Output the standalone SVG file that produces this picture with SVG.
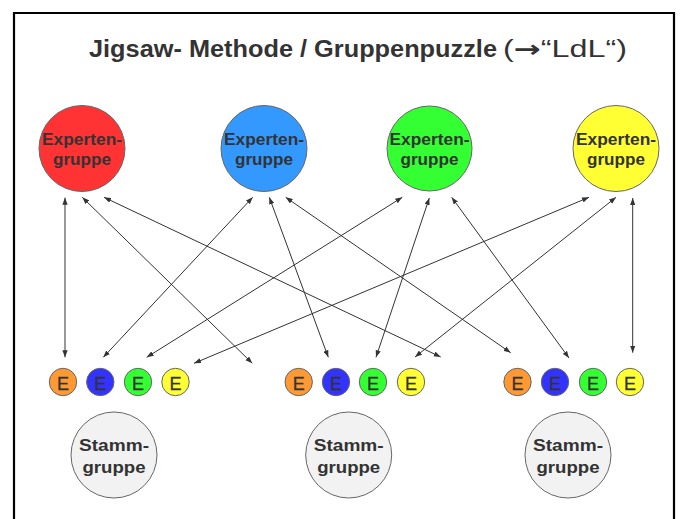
<svg xmlns="http://www.w3.org/2000/svg" width="680" height="519" viewBox="0 0 680 519">
<style>
.bg{fill:#fff}
.frame{fill:none;stroke:#000;stroke-width:2.2}
.title{font-family:"Liberation Sans",Arial,sans-serif;font-size:23px;fill:#333}
.big{stroke:#666;stroke-width:1}
.lbl{font-family:"Liberation Sans",Arial,sans-serif;font-weight:bold;fill:#333;text-anchor:middle}
.e{stroke:#666;stroke-width:1}
.etx{font-family:"Liberation Sans",Arial,sans-serif;font-size:18px;fill:#333;text-anchor:middle;stroke:#333;stroke-width:0.3}
.cn line{stroke:#333;stroke-width:1;marker-start:url(#ah);marker-end:url(#ah)}
</style>
<defs>
<marker id="ah" viewBox="0 0 8 6" refX="8" refY="3" markerWidth="7" markerHeight="5.5" markerUnits="userSpaceOnUse" orient="auto-start-reverse">
<path d="M0,0 L8,3 L0,6 z" fill="#333"/>
</marker>
</defs>
<rect class="bg" x="0" y="0" width="680" height="519"/>
<path class="frame" d="M14,522 V13 H674 V522"/>
<g id="title">
<text class="title" x="89" y="57" font-weight="bold" textLength="408" lengthAdjust="spacingAndGlyphs">Jigsaw- Methode / Gruppenpuzzle</text>
<text class="title" x="503" y="57" textLength="124" lengthAdjust="spacingAndGlyphs">(<tspan font-family="'DejaVu Sans',sans-serif" font-weight="bold">→</tspan>“LdL“)</text>
</g>
<g class="cn" id="connectors">
<line x1="65" y1="197.7" x2="65" y2="357.3"/>
<line x1="82.3" y1="197.3" x2="252.3" y2="363.3"/>
<line x1="104" y1="197.3" x2="440.7" y2="357"/>
<line x1="252.7" y1="197.3" x2="103.3" y2="357.3"/>
<line x1="269.3" y1="197.3" x2="328.3" y2="357.3"/>
<line x1="285.7" y1="197.3" x2="510.7" y2="352.7"/>
<line x1="402.3" y1="197.3" x2="146.7" y2="357.3"/>
<line x1="429.3" y1="198" x2="376" y2="357.3"/>
<line x1="451.7" y1="197.3" x2="569" y2="358"/>
<line x1="589" y1="197.3" x2="194" y2="363.3"/>
<line x1="616" y1="197.3" x2="415" y2="357"/>
<line x1="632.7" y1="198" x2="632.7" y2="352.7"/>
</g>
<g id="expert-red">
<circle class="big" cx="82" cy="148.5" r="43" fill="#FF3333"/>
<text class="lbl" x="82" y="145" font-size="16" textLength="80" lengthAdjust="spacingAndGlyphs">Experten-</text>
<text class="lbl" x="82" y="165" font-size="16" textLength="58" lengthAdjust="spacingAndGlyphs">gruppe</text>
</g>
<g id="expert-blue">
<circle class="big" cx="264" cy="148.5" r="43" fill="#3399FF"/>
<text class="lbl" x="264" y="145" font-size="16" textLength="80" lengthAdjust="spacingAndGlyphs">Experten-</text>
<text class="lbl" x="264" y="165" font-size="16" textLength="58" lengthAdjust="spacingAndGlyphs">gruppe</text>
</g>
<g id="expert-green">
<circle class="big" cx="429.5" cy="148.5" r="42.5" fill="#33FF33"/>
<text class="lbl" x="429.5" y="145" font-size="16" textLength="80" lengthAdjust="spacingAndGlyphs">Experten-</text>
<text class="lbl" x="429.5" y="165" font-size="16" textLength="58" lengthAdjust="spacingAndGlyphs">gruppe</text>
</g>
<g id="expert-yellow">
<circle class="big" cx="616" cy="148.5" r="43" fill="#FFFF33"/>
<text class="lbl" x="616" y="145" font-size="16" textLength="80" lengthAdjust="spacingAndGlyphs">Experten-</text>
<text class="lbl" x="616" y="165" font-size="16" textLength="58" lengthAdjust="spacingAndGlyphs">gruppe</text>
</g>
<g id="e-group-1">
<circle class="e" cx="63" cy="382" r="13.7" fill="#FF9933"/><text class="etx" x="63" y="389.5">E</text>
<circle class="e" cx="100.3" cy="382" r="13.7" fill="#3333FF"/><text class="etx" x="100.3" y="389.5">E</text>
<circle class="e" cx="138" cy="382" r="13.7" fill="#33FF33"/><text class="etx" x="138" y="389.5">E</text>
<circle class="e" cx="175.5" cy="382" r="13.7" fill="#FFFF33"/><text class="etx" x="175.5" y="389.5">E</text>
</g>
<g id="e-group-2">
<circle class="e" cx="298.7" cy="382" r="13.7" fill="#FF9933"/><text class="etx" x="298.7" y="389.5">E</text>
<circle class="e" cx="336" cy="382" r="13.7" fill="#3333FF"/><text class="etx" x="336" y="389.5">E</text>
<circle class="e" cx="373" cy="382" r="13.7" fill="#33FF33"/><text class="etx" x="373" y="389.5">E</text>
<circle class="e" cx="411" cy="382" r="13.7" fill="#FFFF33"/><text class="etx" x="411" y="389.5">E</text>
</g>
<g id="e-group-3">
<circle class="e" cx="517.5" cy="382" r="13.7" fill="#FF9933"/><text class="etx" x="517.5" y="389.5">E</text>
<circle class="e" cx="555" cy="382" r="13.7" fill="#3333FF"/><text class="etx" x="555" y="389.5">E</text>
<circle class="e" cx="593" cy="382" r="13.7" fill="#33FF33"/><text class="etx" x="593" y="389.5">E</text>
<circle class="e" cx="630" cy="382" r="13.7" fill="#FFFF33"/><text class="etx" x="630" y="389.5">E</text>
</g>
<g id="stamm-1">
<circle class="big" cx="114" cy="455" r="43" fill="#F2F2F2"/>
<text class="lbl" x="114" y="451" font-size="17" textLength="70" lengthAdjust="spacingAndGlyphs">Stamm-</text>
<text class="lbl" x="114" y="473" font-size="17" textLength="63" lengthAdjust="spacingAndGlyphs">gruppe</text>
</g>
<g id="stamm-2">
<circle class="big" cx="348.7" cy="455" r="43" fill="#F2F2F2"/>
<text class="lbl" x="348.7" y="451" font-size="17" textLength="70" lengthAdjust="spacingAndGlyphs">Stamm-</text>
<text class="lbl" x="348.7" y="473" font-size="17" textLength="63" lengthAdjust="spacingAndGlyphs">gruppe</text>
</g>
<g id="stamm-3">
<circle class="big" cx="568" cy="455" r="43" fill="#F2F2F2"/>
<text class="lbl" x="568" y="451" font-size="17" textLength="70" lengthAdjust="spacingAndGlyphs">Stamm-</text>
<text class="lbl" x="568" y="473" font-size="17" textLength="63" lengthAdjust="spacingAndGlyphs">gruppe</text>
</g>
</svg>
